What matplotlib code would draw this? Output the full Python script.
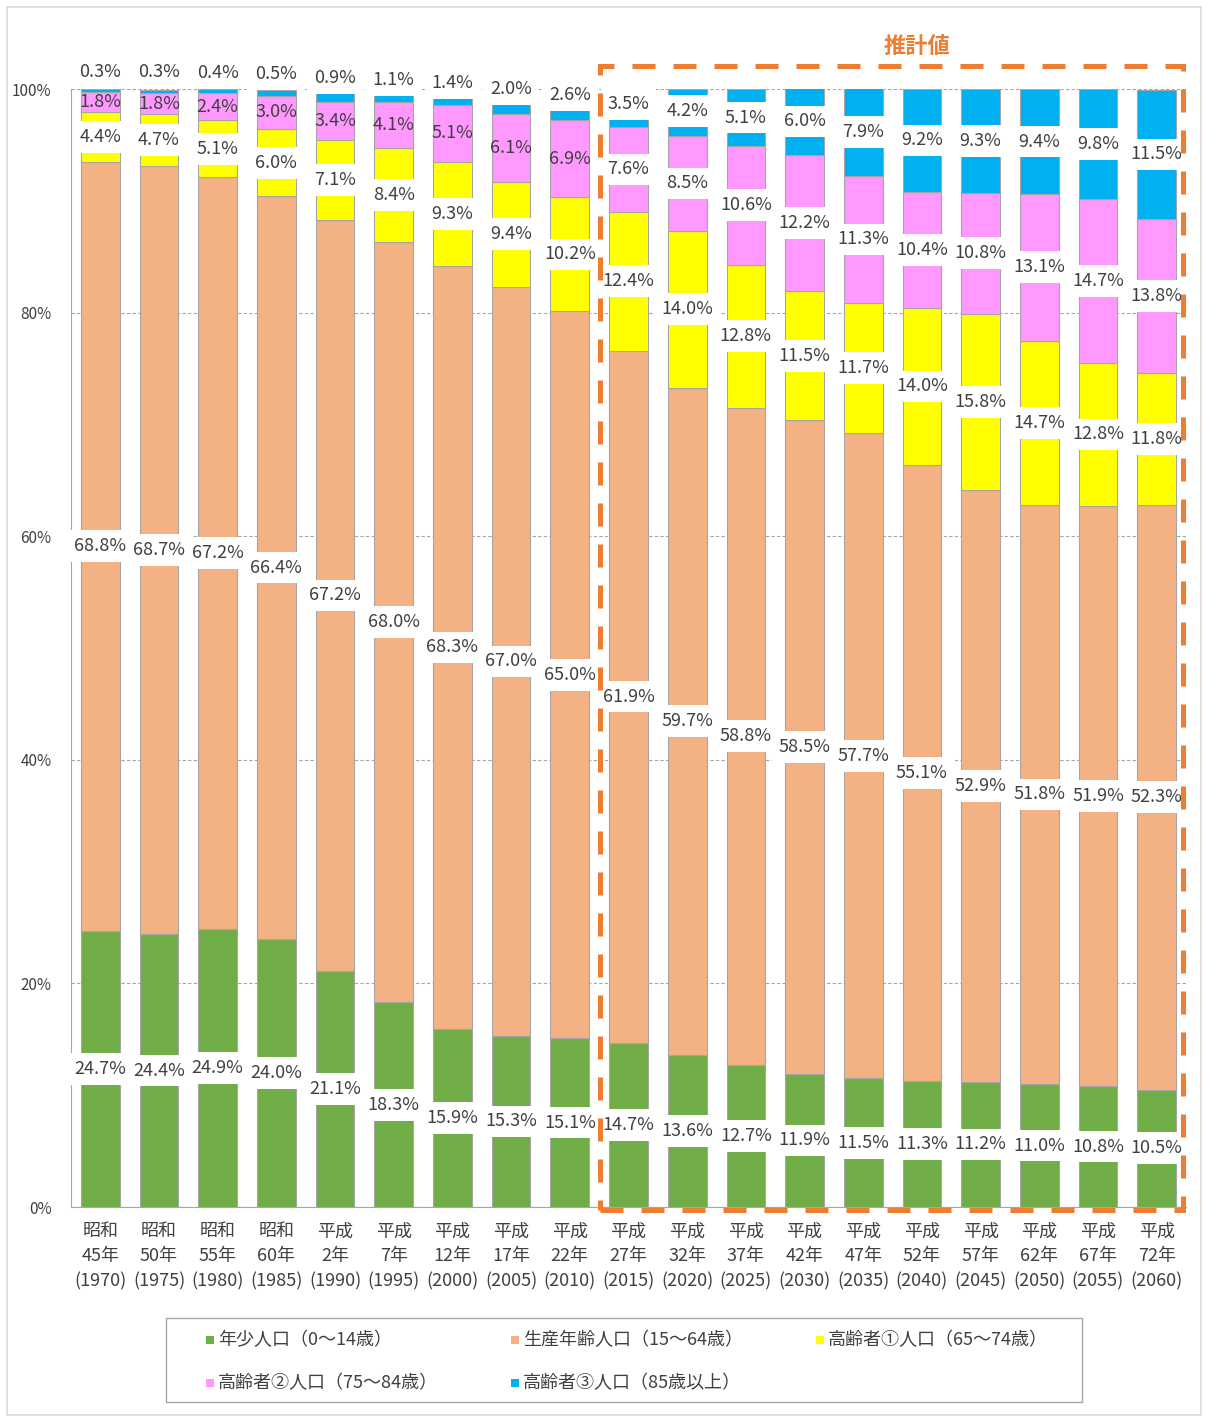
import numpy as np
import matplotlib
matplotlib.use('Agg')
import matplotlib.pyplot as plt
from matplotlib.patches import Rectangle

plt.rcParams['font.family'] = ['Noto Sans CJK JP', 'DejaVu Sans']

# 年次ラベル
eras = ['昭和', '昭和', '昭和', '昭和', '平成', '平成', '平成', '平成', '平成', '平成',
        '平成', '平成', '平成', '平成', '平成', '平成', '平成', '平成', '平成']
era_years = ['45', '50', '55', '60', '2', '7', '12', '17', '22', '27',
             '32', '37', '42', '47', '52', '57', '62', '67', '72']
years = [1970, 1975, 1980, 1985, 1990, 1995, 2000, 2005, 2010, 2015,
         2020, 2025, 2030, 2035, 2040, 2045, 2050, 2055, 2060]

# 構成比 (%)
young = [24.7, 24.4, 24.9, 24.0, 21.1, 18.3, 15.9, 15.3, 15.1, 14.7,
         13.6, 12.7, 11.9, 11.5, 11.3, 11.2, 11.0, 10.8, 10.5]
working = [68.8, 68.7, 67.2, 66.4, 67.2, 68.0, 68.3, 67.0, 65.0, 61.9,
           59.7, 58.8, 58.5, 57.7, 55.1, 52.9, 51.8, 51.9, 52.3]
old1 = [4.4, 4.7, 5.1, 6.0, 7.1, 8.4, 9.3, 9.4, 10.2, 12.4,
        14.0, 12.8, 11.5, 11.7, 14.0, 15.8, 14.7, 12.8, 11.8]
old2 = [1.8, 1.8, 2.4, 3.0, 3.4, 4.1, 5.1, 6.1, 6.9, 7.6,
        8.5, 10.6, 12.2, 11.3, 10.4, 10.8, 13.1, 14.7, 13.8]
old3 = [0.3, 0.3, 0.4, 0.5, 0.9, 1.1, 1.4, 2.0, 2.6, 3.5,
        4.2, 5.1, 6.0, 7.9, 9.2, 9.3, 9.4, 9.8, 11.5]

series_names = ['年少人口（0～14歳）', '生産年齢人口（15～64歳）', '高齢者①人口（65～74歳）',
                '高齢者②人口（75～84歳）', '高齢者③人口（85歳以上）']
colors = ['#70AD47', '#F4B183', '#FFFF00', '#FF99FF', '#00B0F0']
first_estimate = 9  # 平成27年から推計値

W, H = 1206, 1419
fig = plt.figure(figsize=(W / 100, H / 100), dpi=100)
fig.patches.append(Rectangle((7 / W, 4 / H), 1194 / W, 1408 / H, transform=fig.transFigure,
                             fill=False, edgecolor='#D9D9D9', linewidth=1.2))
ax = fig.add_axes([71 / W, 1 - 1207 / H, 1115 / W, (1207 - 89) / H])

x = np.arange(len(years))
data = [young, working, old1, old2, old3]
bottom = np.zeros(len(years))
txt = '#404040'
for k, vals in enumerate(data):
    vals = np.array(vals)
    ax.bar(x, vals, 0.66, bottom=bottom, color=colors[k], edgecolor='#A6A6A6',
           linewidth=0.8, label=series_names[k], zorder=2)
    for i, v in enumerate(vals):
        yc = bottom[i] + v / 2
        box = dict(facecolor='white', edgecolor='none', pad=5)
        if k == 4:
            yc = max(yc, 101.8 - v * 0.9)
        if k == 3 and i < first_estimate:
            box = None
        ax.text(x[i], yc, f'{v:.1f}%', ha='center', va='center', fontsize=13,
                color=txt, bbox=box, zorder=4, clip_on=False)
    bottom += vals

ax.set_xlim(-0.5, len(years) - 0.5)
ax.set_ylim(0, 100)
ax.set_yticks([0, 20, 40, 60, 80, 100])
ax.set_yticklabels(['0%', '20%', '40%', '60%', '80%', '100%'], fontsize=11, color=txt)
ax.set_xticks(x)
ax.set_xticklabels([f'{e}\n{y}年\n({yr})' for e, y, yr in zip(eras, era_years, years)],
                   fontsize=13, color=txt, linespacing=1.5)
ax.tick_params(axis='both', length=0)
ax.tick_params(axis='y', pad=14)
ax.tick_params(axis='x', pad=11)
ax.yaxis.grid(True, linestyle=(0, (3, 2)), color='#A6A6A6', linewidth=0.8, zorder=0)
ax.set_axisbelow(True)
for s in ['top', 'right']:
    ax.spines[s].set_visible(False)
for s in ['left', 'bottom']:
    ax.spines[s].set_color('#A6A6A6')

# 推計値の枠
ax.add_patch(Rectangle((first_estimate - 0.49, -0.3), len(years) - first_estimate - 0.06, 102.4,
                       fill=False, edgecolor='#ED7D31', linewidth=3.6,
                       linestyle=(0, (4.6, 3.6)), clip_on=False, zorder=5))
fig.text(917 / W, 1 - 46 / H, '推計値', ha='center', va='center', fontsize=16,
         fontweight='bold', color='#ED7D31')

# 凡例
fig.patches.append(Rectangle((166 / W, 1 - 1402 / H), 916 / W, 84 / H, transform=fig.transFigure,
                             fill=False, edgecolor='#A6A6A6', linewidth=1.0))
leg_x = [210, 515, 820, 210, 515]
leg_y = [1340, 1340, 1340, 1383, 1383]
for k in range(len(series_names)):
    fig.patches.append(Rectangle(((leg_x[k] - 4) / W, 1 - (leg_y[k] + 4) / H), 8 / W, 8 / H,
                                 transform=fig.transFigure, facecolor=colors[k],
                                 edgecolor='none'))
    fig.text((leg_x[k] + 8) / W, 1 - leg_y[k] / H, series_names[k], ha='left', va='center',
             fontsize=13, color=txt)

fig.savefig('out.png', dpi=100)
